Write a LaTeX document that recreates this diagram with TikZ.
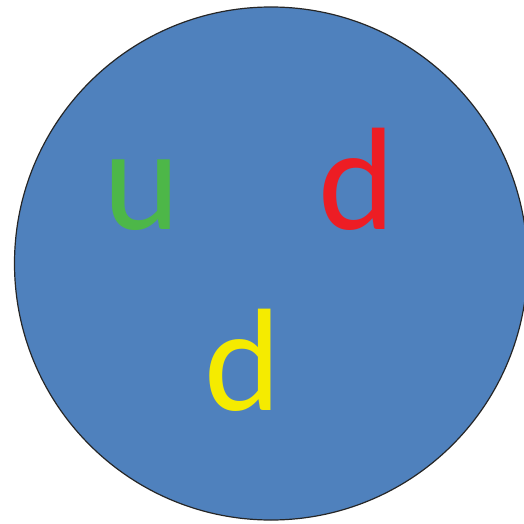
\documentclass[tikz,border=0pt]{standalone}
\usepackage{fontspec}
\setmainfont{Carlito}
\definecolor{ballblue}{RGB}{79,129,189}
\definecolor{qgreen}{RGB}{77,183,72}
\definecolor{qred}{RGB}{237,29,36}
\definecolor{qyellow}{RGB}{245,235,0}
\tikzset{quark/.style={inner sep=0pt, anchor=base, font=\fontsize{146}{146}\selectfont}}
\begin{document}
\begin{tikzpicture}[x=1pt,y=1pt]
\useasboundingbox (0,0) rectangle (524,523);
\clip (0,0) rectangle (524,523);
\node[circle, draw=black!85, line width=1.2pt, fill=ballblue, minimum size=513pt, inner sep=0pt] (ball) at (271,259.5) {};
\node[quark, text=qgreen] (u) at (141.5,294) {u};
\node[quark, text=qred] (d1) at (357,294) {d};
\node[quark, text=qyellow] (d2) at (243,113) {d};
\end{tikzpicture}
\end{document}
